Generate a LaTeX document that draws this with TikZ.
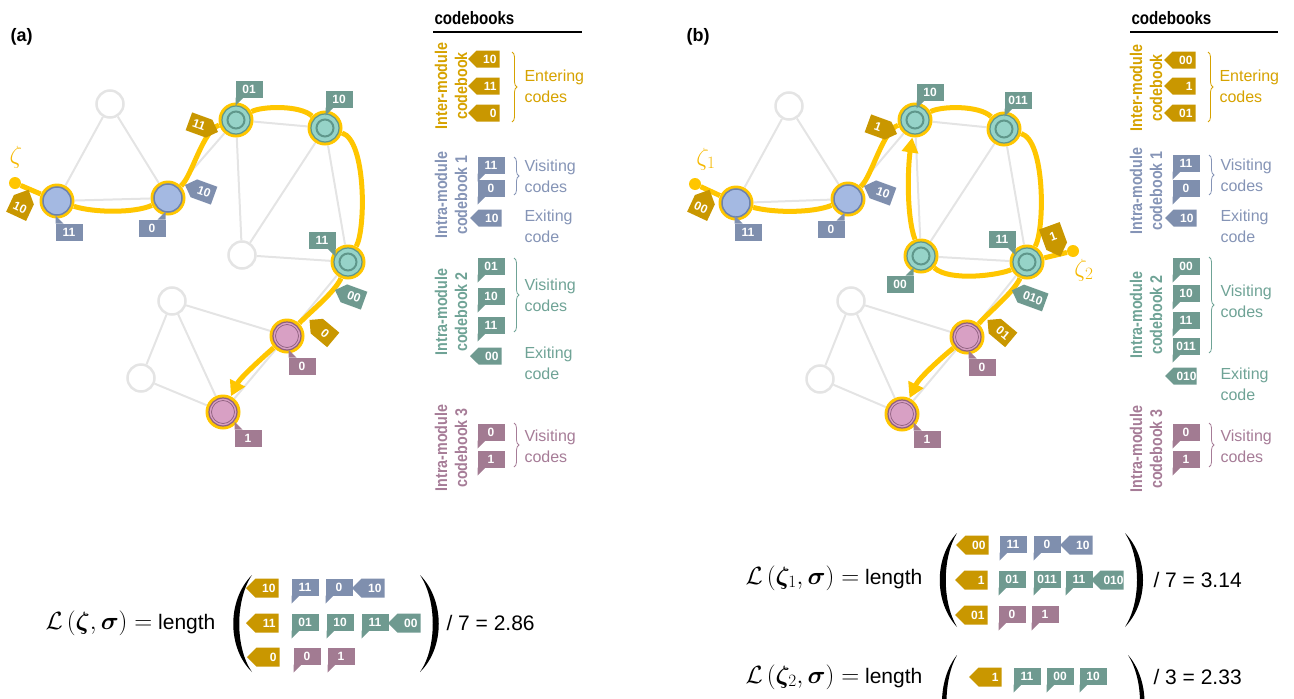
\documentclass[tikz,border=0pt]{standalone}
\usepackage{tikz}
\usepackage{fontspec}
\setmainfont{Liberation Sans}
\newfontfamily\condf[FakeStretch=0.84]{Liberation Sans}
\usepackage{amsmath,bm}
\usetikzlibrary{shapes.symbols,arrows.meta,decorations.pathreplacing}
\pgfdeclarelayer{edgelayer}
\pgfdeclarelayer{pathlayer}
\pgfsetlayers{edgelayer,pathlayer,main}

\definecolor{pathy}{HTML}{FFC600}
\definecolor{goldc}{HTML}{C99700}
\definecolor{goldt}{HTML}{D6A200}
\definecolor{bluefill}{HTML}{A4B9E2}
\definecolor{bluedark}{HTML}{6E82AA}
\definecolor{bluetag}{HTML}{7F8FAE}
\definecolor{bluet}{HTML}{8594B6}
\definecolor{tealfill}{HTML}{96D3C8}
\definecolor{tealdark}{HTML}{5F978B}
\definecolor{tealtag}{HTML}{6F9A90}
\definecolor{tealt}{HTML}{6FA396}
\definecolor{pinkfill}{HTML}{D8A0C4}
\definecolor{pinkdark}{HTML}{8E5F7E}
\definecolor{pinktag}{HTML}{A27B92}
\definecolor{pinkt}{HTML}{A67C97}
\definecolor{greyc}{HTML}{E4E4E4}
\definecolor{zetac}{HTML}{F5B800}

\newcommand\mytagfont{\bfseries\fontsize{12}{13}\selectfont}
\newcommand\mycbfont{\fontsize{16}{21}\selectfont}
\newcommand\myvfont{\condf\bfseries\fontsize{17}{20}\selectfont}
\newcommand\myheadfont{\condf\bfseries\fontsize{18}{20}\selectfont}
\newcommand\myformfont{\fontsize{21}{24}\selectfont}
\newcommand\mymathsize{\fontsize{26}{28}\selectfont}

\tikzset{
 gnode/.style={circle,draw=greyc,line width=2.5pt,fill=white,minimum size=27pt,inner sep=0pt},
 vnode/.style={circle,fill=pathy,minimum size=35pt,inner sep=0pt},
 sdot/.style={circle,fill=pathy,minimum size=12pt,inner sep=0pt},
 gedge/.style={greyc,line width=2pt},
 ypath/.style={pathy,line width=5pt},
 yarrow/.style={ypath,-{Triangle[length=15pt,width=16pt]}},
 codetag/.style={shape=signal,signal pointer angle=90,fill=#1,text=white,font=\mytagfont,inner xsep=3pt,inner ysep=0pt,minimum height=17pt,outer sep=0pt},
 cbw/.style={text width=17pt,align=right},
 ftag/.style={minimum height=19pt},
 ntagh/.style={codetag=#1,minimum width=31pt,minimum height=19pt},
 ntagv/.style={codetag=#1,minimum width=22pt,minimum height=28pt},
 flagbox/.style={rectangle,fill=#1,text=white,font=\mytagfont,minimum width=27pt,minimum height=17pt,inner sep=0pt,outer sep=0pt},
 cbtext/.style={font=\mycbfont,align=left,anchor=west,text=#1},
 vlabel/.style={font=\myvfont,align=center,rotate=90,text=#1},
 brc/.style={draw=#1,line width=0.8pt,decorate,decoration={brace,amplitude=5pt}},
 ftext/.style={font=\myformfont,anchor=west},
}

\newcommand\flag[7]{\node[flagbox=#4] (#1) at (#2) {#3}; \fill[#4] (#1.#5) -- ++(#6) -- ++(#7) -- cycle;}
\newcommand\flagBL[4]{\flag{#1}{#2}{#3}{#4}{south west}{0,8}{8,-8}}
\newcommand\flagTL[4]{\flag{#1}{#2}{#3}{#4}{north west}{0,-8}{8,8}}
\newcommand\flagTR[4]{\flag{#1}{#2}{#3}{#4}{north east}{0,-8}{-8,8}}
\newcommand\flagBR[4]{\flag{#1}{#2}{#3}{#4}{south east}{0,8}{-8,-8}}

\newcommand\bnode[2]{\node[vnode] (#1) at (#2) {}; \filldraw[fill=bluefill,draw=bluedark,line width=1.5pt] (#1.center) circle[radius=14];}
\newcommand\tnode[2]{\node[vnode] (#1) at (#2) {}; \filldraw[fill=tealfill,draw=tealdark,line width=1.2pt] (#1.center) circle[radius=14]; \draw[tealdark,line width=2pt] (#1.center) circle[radius=8.5];}
\newcommand\pnode[2]{\node[vnode] (#1) at (#2) {}; \filldraw[fill=pinkfill,draw=pinkdark,line width=1.2pt] (#1.center) circle[radius=14]; \draw[pinkdark,line width=0.7pt] (#1.center) circle[radius=11.5];}

\begin{document}
\begin{tikzpicture}[x=1pt,y=-1pt]
\clip (0,0) rectangle (1294,699);

% panel labels
\node[anchor=west,font=\bfseries\fontsize{18}{20}\selectfont] (la) at (7,37) {(a)};
\node[anchor=west,font=\bfseries\fontsize{18}{20}\selectfont] (lb) at (683,37) {(b)};

% ================= (a) network =================
\node[sdot] (sa) at (15,183) {};
\node[text=zetac,font=\fontsize{24}{24}\selectfont] (za) at (16,157) {$\zeta$};
\node[gnode] (ga1) at (110,104) {};
\node[gnode] (ga2) at (242,255) {};
\node[gnode] (ga3) at (172,301) {};
\node[gnode] (ga4) at (141,378) {};
\bnode{A1}{57,201}
\bnode{A2}{168,198}
\tnode{T1}{236,120}
\tnode{T2}{325,128}
\tnode{T3}{348,262}
\pnode{P1}{287,336}
\pnode{P2}{223,412}

\begin{pgfonlayer}{edgelayer}
\foreach \u/\v in {ga1/A1,ga1/A2,A1/A2,A2/T1,T1/T2,T1/ga2,T2/ga2,T2/T3,ga2/T3,T3/P1,ga3/P1,ga3/ga4,ga3/P2,ga4/P2,P1/P2}
  \draw[gedge] (\u) -- (\v);
\end{pgfonlayer}
\begin{pgfonlayer}{pathlayer}
\draw[ypath] (sa) -- (A1);
\draw[ypath] (A1) .. controls (95,213) and (135,213) .. (A2);
\draw[ypath] (A2) .. controls (192,176) and (203,130) .. (T1);
\draw[ypath] (T1) .. controls (262,106) and (300,105) .. (T2);
\draw[ypath] (T2) .. controls (366,140) and (366,228) .. (T3);
\draw[ypath] (T3) .. controls (335,292) and (310,312) .. (P1);
\draw[yarrow] (P1) .. controls (262,358) and (240,378) .. (P2);
\end{pgfonlayer}

\node[ntagv=goldc,signal to=north,rotate=-25] (eA0) at (20,208) {10};
\flagTL{vA1}{69,232}{11}{bluetag}
\flagTR{vA2}{152,228}{0}{bluetag}
\node[ntagh=bluetag,signal to=west,rotate=-20] (xA1) at (204,192) {10};
\node[ntagh=goldc,signal to=east,rotate=-20] (eA1) at (199,125) {11};
\flagBL{vT1}{249,89}{01}{tealtag}
\flagBL{vT2}{339,99}{10}{tealtag}
\flagBR{vT3}{322,240}{11}{tealtag}
\node[ntagh=tealtag,signal to=west,rotate=-20] (xA2) at (354,297) {00};
\node[ntagh=goldc,signal to=west,rotate=-40] (eA2) at (325,333) {0};
\flagTL{vP1}{302,366}{0}{pinktag}
\flagTL{vP2}{248,438}{1}{pinktag}

% ================= (a) codebooks =================
\node[anchor=west,font=\myheadfont] (cbha) at (431,18) {codebooks};
\draw[line width=1.2pt] (433,32) -- (582,32);
\node[vlabel=goldt] (lia) at (451,86) {Inter-module\\codebook};
\node[codetag=goldc,signal to=west,cbw] (ca1) at (488,59) {10};
\node[codetag=goldc,signal to=west,cbw] (ca2) at (488,86) {11};
\node[codetag=goldc,signal to=west,cbw] (ca3) at (488,113) {0};
\draw[brc=goldt] (512,52) -- (512,122);
\node[cbtext=goldt] (cta) at (521,86) {Entering\\codes};

\node[vlabel=bluet] (l1a) at (451,195) {Intra-module\\codebook 1};
\flagBL{cb1a}{491,165}{11}{bluetag}
\flagBL{cb1b}{491,188}{0}{bluetag}
\draw[brc=bluet] (514,157) -- (514,195);
\node[cbtext=bluet] (ct1a) at (521,176) {Visiting\\codes};
\node[codetag=bluetag,signal to=west,cbw] (cx1) at (490,218) {10};
\node[cbtext=bluet] (ct1b) at (521,226) {Exiting\\code};

\node[vlabel=tealt] (l2a) at (451,312) {Intra-module\\codebook 2};
\flagBL{cb2a}{491,266}{01}{tealtag}
\flagBL{cb2b}{491,296}{10}{tealtag}
\flagBL{cb2c}{491,325}{11}{tealtag}
\draw[brc=tealt] (514,258) -- (514,332);
\node[cbtext=tealt] (ct2a) at (521,295) {Visiting\\codes};
\node[codetag=tealtag,signal to=west,cbw] (cx2) at (490,356) {00};
\node[cbtext=tealt] (ct2b) at (521,363) {Exiting\\code};

\node[vlabel=pinkt] (l3a) at (451,448) {Intra-module\\codebook 3};
\flagBL{cb3a}{491,432}{0}{pinktag}
\flagBL{cb3b}{491,459}{1}{pinktag}
\draw[brc=pinkt] (514,423) -- (514,467);
\node[cbtext=pinkt] (ct3a) at (521,446) {Visiting\\codes};

% ================= (a) formula =================
\node[ftext] (fa) at (42,623) {{\mymathsize$\mathcal{L}\left(\bm{\zeta},\bm{\sigma}\right) =$}\ length};
\fill (252,575) .. controls (227,600) and (227,648) .. (252,672) .. controls (235,648) and (235,600) .. (252,575) -- cycle;
\fill (420,575) .. controls (445,600) and (445,648) .. (420,672) .. controls (437,648) and (437,600) .. (420,575) -- cycle;
\node[codetag=goldc,signal to=west,cbw,ftag] (fa11) at (267,588) {10};
\flagBL{fa12}{305,587}{11}{bluetag}
\flagBL{fa13}{339,587}{0}{bluetag}
\node[codetag=bluetag,signal to=west,cbw,ftag] (fa14) at (373,588) {10};
\node[codetag=goldc,signal to=west,cbw,ftag] (fa21) at (267,623) {11};
\flagBL{fa22}{305,622}{01}{tealtag}
\flagBL{fa23}{340,622}{10}{tealtag}
\flagBL{fa24}{375,622}{11}{tealtag}
\node[codetag=tealtag,signal to=west,cbw,ftag] (fa25) at (409,623) {00};
\node[codetag=goldc,signal to=west,cbw,ftag] (fa31) at (268,657) {0};
\flagBL{fa32}{307,656}{0}{pinktag}
\flagBL{fa33}{341,656}{1}{pinktag}
\node[ftext] (fa2) at (443,623) {/ 7 = 2.86};

% ================= (b) network =================
\node[sdot] (sb) at (695,184) {};
\node[sdot] (sc) at (1073,251) {};
\node[text=zetac,font=\fontsize{24}{24}\selectfont] (zb) at (706,159) {$\zeta_1$};
\node[text=zetac,font=\fontsize{24}{24}\selectfont] (zc) at (1084,270) {$\zeta_2$};
\node[gnode] (gb1) at (789,106) {};
\node[gnode] (gb3) at (851,301) {};
\node[gnode] (gb4) at (820,379) {};
\bnode{B1}{736,203}
\bnode{B2}{848,199}
\tnode{U1}{915,120}
\tnode{U2}{1004,129}
\tnode{U4}{921,256}
\tnode{U3}{1027,262}
\pnode{Q1}{967,337}
\pnode{Q2}{902,414}

\begin{pgfonlayer}{edgelayer}
\foreach \u/\v in {gb1/B1,gb1/B2,B1/B2,B2/U1,U1/U2,U1/U4,U2/U4,U2/U3,U4/U3,U3/Q1,gb3/Q1,gb3/gb4,gb3/Q2,gb4/Q2,Q1/Q2}
  \draw[gedge] (\u) -- (\v);
\end{pgfonlayer}
\begin{pgfonlayer}{pathlayer}
\draw[ypath] (sb) -- (B1);
\draw[ypath] (B1) .. controls (775,213) and (812,213) .. (B2);
\draw[ypath] (B2) .. controls (872,176) and (883,130) .. (U1);
\draw[ypath] (U1) .. controls (941,106) and (979,105) .. (U2);
\draw[ypath] (U2) .. controls (1045,140) and (1045,228) .. (U3);
\draw[ypath] (U3) .. controls (1014,292) and (989,312) .. (Q1);
\draw[yarrow] (Q1) .. controls (941,358) and (919,378) .. (Q2);
\draw[ypath] (sc) -- (U3);
\draw[ypath] (U3) .. controls (1000,275) and (950,282) .. (U4);
\draw[yarrow] (U4) .. controls (906,215) and (908,165) .. (U1);
\end{pgfonlayer}

\node[ntagv=goldc,signal to=north,rotate=-25] (eB0) at (701,208) {00};
\flagTL{vB1}{748,232}{11}{bluetag}
\flagTR{vB2}{831,229}{0}{bluetag}
\node[ntagh=bluetag,signal to=west,rotate=-20] (xB1) at (883,193) {10};
\node[ntagh=goldc,signal to=east,rotate=-20] (eB1) at (878,127) {1};
\flagBL{vU1}{930,92}{10}{tealtag}
\flagBL{vU2}{1018,100}{011}{tealtag}
\flagBR{vU3}{1002,239}{11}{tealtag}
\flagTR{vU4}{900,284}{00}{tealtag}
\node[ntagv=goldc,signal to=south,rotate=20] (eB3) at (1053,236) {1};
\node[ntagh=tealtag,signal to=west,rotate=-20] (xB2) at (1033,298) {010};
\node[ntagh=goldc,signal to=west,rotate=-40] (eB2) at (1003,333) {01};
\flagTL{vQ1}{982,367}{0}{pinktag}
\flagTL{vQ2}{927,439}{1}{pinktag}

% ================= (b) codebooks =================
\node[anchor=west,font=\myheadfont] (cbhb) at (1128,18) {codebooks};
\draw[line width=1.2pt] (1130,32) -- (1278,32);
\node[vlabel=goldt] (lib) at (1146,88) {Inter-module\\codebook};
\node[codetag=goldc,signal to=west,cbw] (cb1) at (1184,60) {00};
\node[codetag=goldc,signal to=west,cbw] (cb2) at (1184,86) {1};
\node[codetag=goldc,signal to=west,cbw] (cb3) at (1184,113) {01};
\draw[brc=goldt] (1208,52) -- (1208,122);
\node[cbtext=goldt] (ctb) at (1216,86) {Entering\\codes};

\node[vlabel=bluet] (l1b) at (1146,191) {Intra-module\\codebook 1};
\flagBL{db1a}{1186,163}{11}{bluetag}
\flagBL{db1b}{1186,188}{0}{bluetag}
\draw[brc=bluet] (1209,155) -- (1209,195);
\node[cbtext=bluet] (dt1a) at (1217,175) {Visiting\\codes};
\node[codetag=bluetag,signal to=west,cbw] (dx1) at (1185,218) {10};
\node[cbtext=bluet] (dt1b) at (1217,226) {Exiting\\code};

\node[vlabel=tealt] (l2b) at (1146,315) {Intra-module\\codebook 2};
\flagBL{db2a}{1186,266}{00}{tealtag}
\flagBL{db2b}{1186,293}{10}{tealtag}
\flagBL{db2c}{1186,320}{11}{tealtag}
\flagBL{db2d}{1186,346}{011}{tealtag}
\draw[brc=tealt] (1209,257) -- (1209,353);
\node[cbtext=tealt] (dt2a) at (1217,301) {Visiting\\codes};
\node[codetag=tealtag,signal to=west,cbw] (dx2) at (1185,376) {010};
\node[cbtext=tealt] (dt2b) at (1217,384) {Exiting\\code};

\node[vlabel=pinkt] (l3b) at (1146,449) {Intra-module\\codebook 3};
\flagBL{db3a}{1186,432}{0}{pinktag}
\flagBL{db3b}{1186,459}{1}{pinktag}
\draw[brc=pinkt] (1209,423) -- (1209,467);
\node[cbtext=pinkt] (dt3a) at (1217,446) {Visiting\\codes};

% ================= (b) formulas =================
\node[ftext] (fb) at (742,578) {{\mymathsize$\mathcal{L}\left(\bm{\zeta}_1,\bm{\sigma}\right) =$}\ length};
\fill (957,533) .. controls (934,558) and (934,602) .. (957,627) .. controls (942,602) and (942,558) .. (957,533) -- cycle;
\fill (1125,533) .. controls (1149,558) and (1149,602) .. (1125,627) .. controls (1141,602) and (1141,558) .. (1125,533) -- cycle;
\node[codetag=goldc,signal to=west,cbw,ftag] (fb11) at (977,545) {00};
\flagBL{fb12}{1013,544}{11}{bluetag}
\flagBL{fb13}{1047,544}{0}{bluetag}
\node[codetag=bluetag,signal to=west,cbw,ftag] (fb14) at (1081,545) {10};
\node[codetag=goldc,signal to=west,cbw,ftag] (fb21) at (976,580) {1};
\flagBL{fb22}{1012,579}{01}{tealtag}
\flagBL{fb23}{1047,579}{011}{tealtag}
\flagBL{fb24}{1079,579}{11}{tealtag}
\node[codetag=tealtag,signal to=west,cbw,ftag] (fb25) at (1112,580) {010};
\node[codetag=goldc,signal to=west,cbw,ftag] (fb31) at (976,615) {01};
\flagBL{fb32}{1012,614}{0}{pinktag}
\flagBL{fb33}{1045,614}{1}{pinktag}
\node[ftext] (fb2) at (1150,580) {/ 7 = 3.14};

\node[ftext] (fc) at (742,677) {{\mymathsize$\mathcal{L}\left(\bm{\zeta}_2,\bm{\sigma}\right) =$}\ length};
\fill (957,655) .. controls (937,680) and (937,725) .. (957,750) .. controls (943,725) and (943,680) .. (957,655) -- cycle;
\fill (1128,655) .. controls (1150,680) and (1150,725) .. (1128,750) .. controls (1144,725) and (1144,680) .. (1128,655) -- cycle;
\node[codetag=goldc,signal to=west,cbw,ftag] (fc1) at (990,677) {1};
\flagBL{fc2}{1027,676}{11}{tealtag}
\flagBL{fc3}{1060,676}{00}{tealtag}
\flagBL{fc4}{1093,676}{10}{tealtag}
\node[ftext] (fc5) at (1150,677) {/ 3 = 2.33};
\end{tikzpicture}
\end{document}
